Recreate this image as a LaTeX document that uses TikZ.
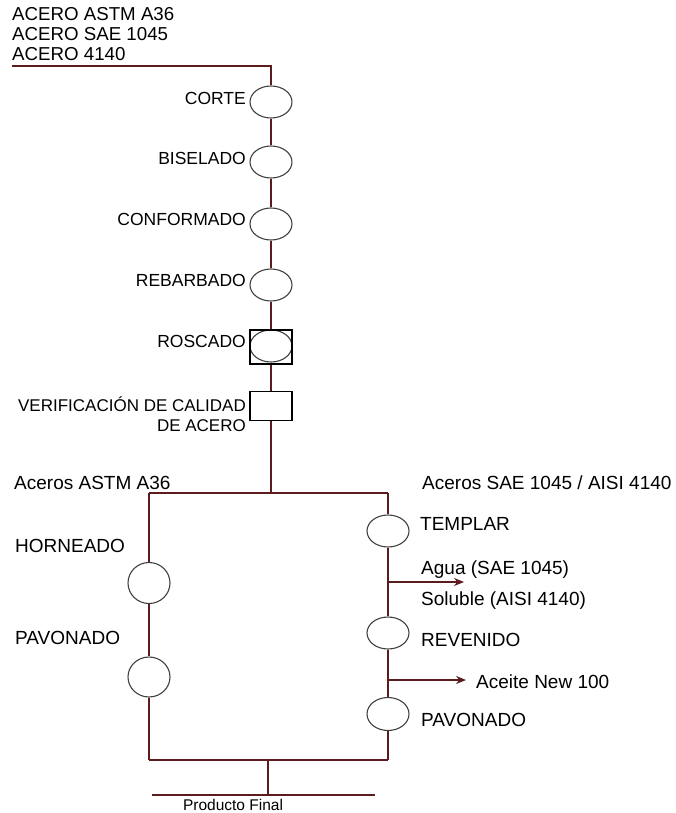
\documentclass[tikz,border=0pt]{standalone}
\usepackage{fontspec}
\setmainfont{Liberation Sans}
\usepackage{tikz}
\usetikzlibrary{shapes.geometric, arrows.meta, positioning, calc}
\definecolor{flowline}{RGB}{92,28,30}
\tikzstyle{proc} = [draw=black!75, ellipse, line width=1.1pt, minimum width=42pt, minimum height=32pt, inner sep=0pt]
\tikzstyle{insp} = [draw=black, rectangle, line width=1.1pt, minimum width=42pt, minimum height=29pt, inner sep=0pt]
\tikzstyle{lbl} = [inner sep=0pt, font=\fontsize{17.5}{20}\selectfont]
\tikzstyle{biglbl} = [inner sep=0pt, font=\fontsize{19}{20}\selectfont]
\tikzstyle{flow} = [draw=flowline, line width=1.4pt]
\tikzstyle{arrow} = [flow, -{Stealth[length=10pt, width=8pt]}]

\begin{document}
\begin{tikzpicture}[x=1pt, y=-1pt]
    \useasboundingbox (0,0) rectangle (676,813);

    % Raw materials
    \node[lbl, anchor=west, font=\fontsize{18.7}{20}\selectfont] (mat1) at (12,14) {ACERO ASTM A36};
    \node[lbl, anchor=west, font=\fontsize{18.7}{20}\selectfont] (mat2) at (12,34) {ACERO SAE 1045};
    \node[lbl, anchor=west, font=\fontsize{18.7}{20}\selectfont] (mat3) at (12,54) {ACERO 4140};
    \coordinate (in0) at (12,66);

    % Main line of operations
    \node[proc] (corte) at (271,102) {};
    \node[proc] (biselado) at (271,162) {};
    \node[proc] (conformado) at (271,224) {};
    \node[proc] (rebarbado) at (271,285) {};
    \node[proc] (roscado) at (271,346) {};
    \node[insp, minimum height=34pt] (roscbox) at (271,347) {};
    \node[insp] (verif) at (271,406) {};

    \node[lbl, anchor=east] at (246,98) {CORTE};
    \node[lbl, anchor=east] at (246,158) {BISELADO};
    \node[lbl, anchor=east] at (246,219) {CONFORMADO};
    \node[lbl, anchor=east] at (246,280) {REBARBADO};
    \node[lbl, anchor=east] at (246,341) {ROSCADO};
    \node[lbl, anchor=east, align=right, font=\fontsize{17}{20.5}\selectfont] at (246,414) {VERIFICACIÓN DE CALIDAD\\DE ACERO};

    \draw[flow] (in0) -| (corte);
    \draw[flow] (corte) -- (biselado);
    \draw[flow] (biselado) -- (conformado);
    \draw[flow] (conformado) -- (rebarbado);
    \draw[flow] (rebarbado) -- (roscado);
    \draw[flow] (roscbox) -- (verif);

    % Split by steel grade
    \coordinate (split) at (271,493);
    \coordinate (splitL) at (149,493);
    \coordinate (splitR) at (388,493);
    \draw[flow] (verif) -- (split);
    \draw[flow] (splitL) -- (splitR);
    \node[biglbl, anchor=west] at (14,483) {Aceros ASTM A36};
    \node[biglbl, anchor=west] at (422,483) {Aceros SAE 1045 / AISI 4140};

    % Left branch
    \node[proc, minimum height=41pt] (horneado) at (149,583) {};
    \node[proc, minimum height=40pt] (pavonadoL) at (149,677) {};
    \node[biglbl, anchor=west] at (15,546) {HORNEADO};
    \node[biglbl, anchor=west] at (15,638) {PAVONADO};
    \coordinate (joinL) at (149,760);
    \draw[flow] (splitL) -- (horneado);
    \draw[flow] (horneado) -- (pavonadoL);
    \draw[flow] (pavonadoL) -- (joinL);

    % Right branch
    \node[proc] (templar) at (388,531) {};
    \node[proc] (revenido) at (388,633) {};
    \node[proc, minimum height=33pt] (pavonadoR) at (388,714) {};
    \node[biglbl, anchor=west] at (420,524) {TEMPLAR};
    \node[biglbl, anchor=west] at (421,640) {REVENIDO};
    \node[biglbl, anchor=west] at (421,720) {PAVONADO};
    \coordinate (joinR) at (388,760);
    \draw[flow] (splitR) -- (templar);
    \draw[flow] (templar) -- (revenido);
    \draw[flow] (revenido) -- (pavonadoR);
    \draw[flow] (pavonadoR) -- (joinR);

    % Quenching and tempering media
    \coordinate (q0) at (388,582);
    \coordinate (q1) at (464,582);
    \draw[arrow] (q0) -- (q1);
    \node[biglbl, anchor=west] at (421,570) {Agua (SAE 1045)};
    \node[biglbl, anchor=west] at (421,601) {Soluble (AISI 4140)};
    \coordinate (t0) at (388,680);
    \coordinate (t1) at (466,680);
    \draw[arrow] (t0) -- (t1);
    \node[biglbl, anchor=west] at (476,682) {Aceite New 100};

    % Final product
    \coordinate (join) at (268,760);
    \coordinate (out0) at (268,795);
    \coordinate (outL) at (152,795);
    \coordinate (outR) at (375,795);
    \draw[flow] (joinL) -- (joinR);
    \draw[flow] (join) -- (out0);
    \draw[flow] (outL) -- (outR);
    \node[lbl, font=\fontsize{15.5}{18}\selectfont] at (233,805) {Producto Final};
\end{tikzpicture}
\end{document}
